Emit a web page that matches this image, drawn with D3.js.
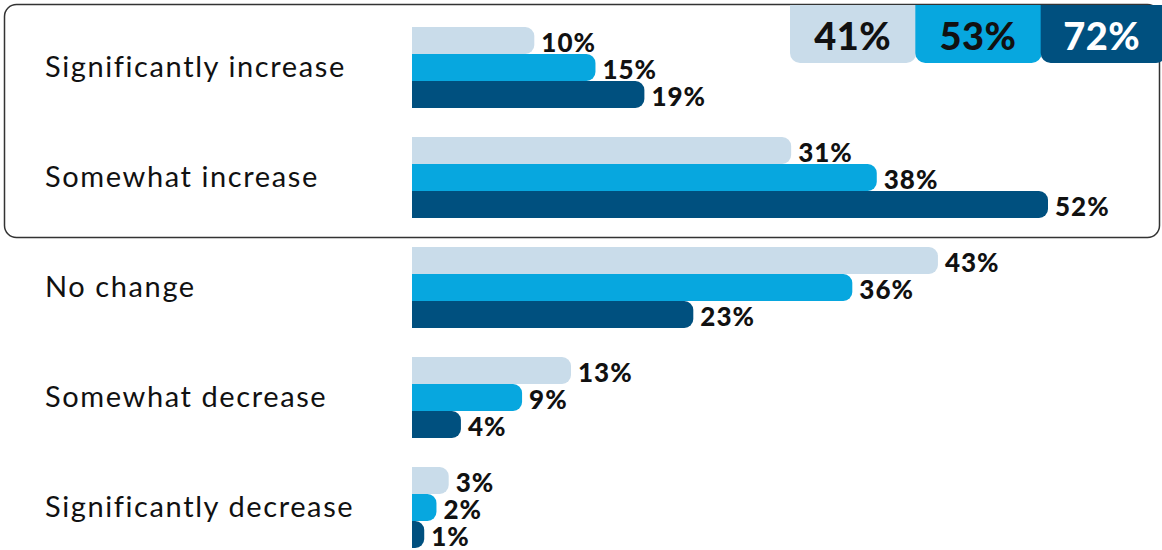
<!DOCTYPE html>
<html><head><meta charset="utf-8">
<script src="https://cdn.jsdelivr.net/npm/d3@7"></script>
<style>body{margin:0;background:#fff}svg{display:block}</style>
</head><body><svg id="c" width="1162" height="550"></svg>
<script>
const categories = ["Significantly increase","Somewhat increase","No change","Somewhat decrease","Significantly decrease"];
const seriesNames = ["s1","s2","s3"];
const series1 = [10,31,43,13,3];
const series2 = [15,38,36,9,2];
const series3 = [19,52,23,4,1];
const totals = ["41%","53%","72%"];
const colors = ["#c9dcea","#07a7df","#00507f"];
const badgeText = ["#111","#111","#fff"];

const svg = d3.select("#c");
const x = d3.scaleLinear().domain([0,52]).range([412,1048]);
const y0 = d3.scaleBand().domain(categories).range([12,562]).paddingInner(0).paddingOuter(0);
const y1 = d3.scaleBand().domain(seriesNames).range([15,96]);
const vals = [series1,series2,series3];

// box
svg.append("rect").attr("x",4.5).attr("y",4.5).attr("width",1155).attr("height",233)
  .attr("rx",12).attr("fill","none").attr("stroke","#333").attr("stroke-width",1.5);

function rightRounded(x0,y,w,h,r){
  r=Math.min(r,w,h/2);
  return `M${x0},${y}H${x0+w-r}A${r},${r} 0 0 1 ${x0+w},${y+r}V${y+h-r}A${r},${r} 0 0 1 ${x0+w-r},${y+h}H${x0}Z`;
}
function bottomRounded(x0,y,w,h,r){
  return `M${x0},${y}H${x0+w}V${y+h-r}A${r},${r} 0 0 1 ${x0+w-r},${y+h}H${x0+r}A${r},${r} 0 0 1 ${x0},${y+h-r}Z`;
}

// badges
const bx = d3.scaleBand().domain(seriesNames).range([790,1166]);
seriesNames.forEach((s,i)=>{
  svg.append("path").attr("d",bottomRounded(bx(s),5,bx.bandwidth()+(i<2?1:0),58,10)).attr("fill",colors[i]);
  svg.append("text").attr("x",bx(s)+(i==2?61:bx.bandwidth()/2)).attr("y",35).attr("text-anchor","middle")
    .attr("dominant-baseline","central").attr("font-family","Lato, 'Open Sans', sans-serif")
    .attr("font-weight",900).attr("font-size",38).attr("letter-spacing",0.5).attr("fill",badgeText[i]).text(totals[i]);
});

const g = svg.selectAll("g.cat").data(categories).join("g").attr("class","cat")
  .attr("transform",d=>`translate(0,${y0(d)})`);

g.append("text").attr("x",45).attr("y",53.5).attr("dominant-baseline","central")
  .attr("font-family","Lato, 'Open Sans', sans-serif").attr("font-size",29).attr("letter-spacing",1.6).attr("fill","#111")
  .text(d=>d);

g.each(function(c,ci){
  const gg=d3.select(this);
  seriesNames.forEach((s,si)=>{
    const v=vals[si][ci];
    gg.append("path").attr("d",rightRounded(x(0),y1(s),x(v)-x(0),y1.bandwidth(),9)).attr("fill",colors[si]);
    gg.append("text").attr("x",x(v)+7).attr("y",y1(s)+y1.bandwidth()/2+1).attr("dominant-baseline","central")
      .attr("font-family","Lato, 'Open Sans', sans-serif").attr("font-weight",900).attr("font-size",26)
      .attr("letter-spacing",1).attr("fill","#111").text(v+"%");
  });
});
</script></body></html>
